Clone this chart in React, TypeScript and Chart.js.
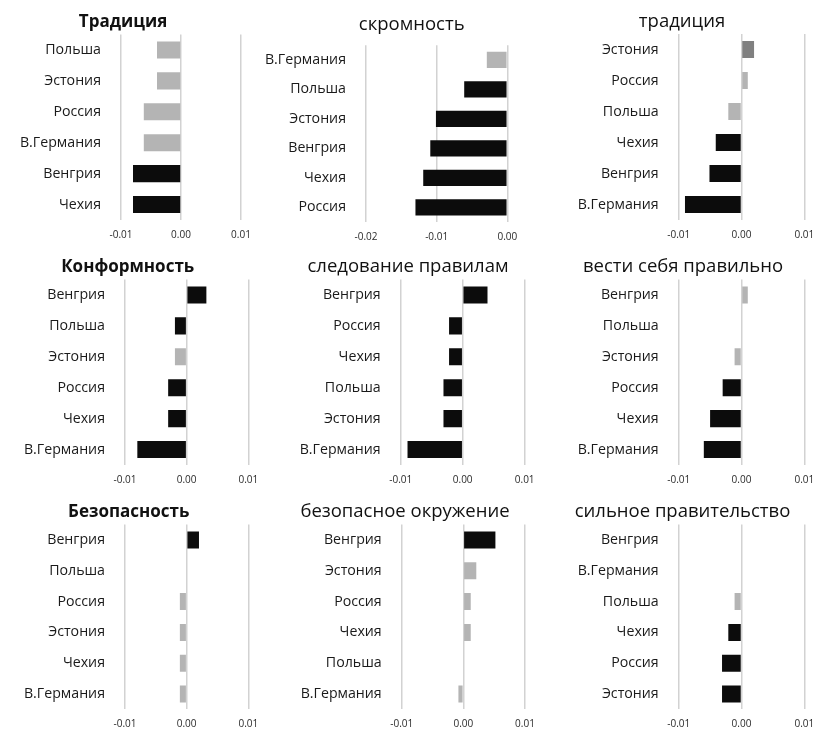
import React, { useEffect, useRef } from "react";
import { Chart, registerables } from "chart.js";

Chart.register(...registerables);

// ---------- DATA ----------
// level codes: "s" = significant (black), "m" = marginal (mid grey), "n" = not significant (light grey)

const p1Title = "Традиция";
const p1Categories = ["Польша", "Эстония", "Россия", "В.Германия", "Венгрия", "Чехия"];
const p1Values = [-0.004, -0.004, -0.0062, -0.0062, -0.008, -0.008];
const p1Levels = ["n", "n", "n", "n", "s", "s"];
const p1Ticks = [-0.01, 0, 0.01];

const p2Title = "скромность";
const p2Categories = ["В.Германия", "Польша", "Эстония", "Венгрия", "Чехия", "Россия"];
const p2Values = [-0.0029, -0.0061, -0.0101, -0.0109, -0.0119, -0.013];
const p2Levels = ["n", "s", "s", "s", "s", "s"];
const p2Ticks = [-0.02, -0.01, 0];

const p3Title = "традиция";
const p3Categories = ["Эстония", "Россия", "Польша", "Чехия", "Венгрия", "В.Германия"];
const p3Values = [0.002, 0.001, -0.0021, -0.0041, -0.0051, -0.009];
const p3Levels = ["m", "n", "n", "s", "s", "s"];
const p3Ticks = [-0.01, 0, 0.01];

const p4Title = "Конформность";
const p4Categories = ["Венгрия", "Польша", "Эстония", "Россия", "Чехия", "В.Германия"];
const p4Values = [0.0032, -0.0019, -0.0019, -0.003, -0.003, -0.008];
const p4Levels = ["s", "s", "n", "s", "s", "s"];
const p4Ticks = [-0.01, 0, 0.01];

const p5Title = "следование правилам";
const p5Categories = ["Венгрия", "Россия", "Чехия", "Польша", "Эстония", "В.Германия"];
const p5Values = [0.004, -0.0022, -0.0022, -0.0031, -0.0031, -0.0089];
const p5Levels = ["s", "s", "s", "s", "s", "s"];
const p5Ticks = [-0.01, 0, 0.01];

const p6Title = "вести себя правильно";
const p6Categories = ["Венгрия", "Польша", "Эстония", "Россия", "Чехия", "В.Германия"];
const p6Values = [0.001, 0, -0.0011, -0.003, -0.005, -0.006];
const p6Levels = ["n", "n", "n", "s", "s", "s"];
const p6Ticks = [-0.01, 0, 0.01];

const p7Title = "Безопасность";
const p7Categories = ["Венгрия", "Польша", "Россия", "Эстония", "Чехия", "В.Германия"];
const p7Values = [0.002, 0, -0.0011, -0.0011, -0.0011, -0.0011];
const p7Levels = ["s", "n", "n", "n", "n", "n"];
const p7Ticks = [-0.01, 0, 0.01];

const p8Title = "безопасное окружение";
const p8Categories = ["Венгрия", "Эстония", "Россия", "Чехия", "Польша", "В.Германия"];
const p8Values = [0.0052, 0.0021, 0.0012, 0.0012, 0, -0.0008];
const p8Levels = ["s", "n", "n", "n", "n", "n"];
const p8Ticks = [-0.01, 0, 0.01];

const p9Title = "сильное правительство";
const p9Categories = ["Венгрия", "В.Германия", "Польша", "Чехия", "Россия", "Эстония"];
const p9Values = [0, 0, -0.0011, -0.0021, -0.0031, -0.0031];
const p9Levels = ["n", "n", "n", "s", "s", "s"];
const p9Ticks = [-0.01, 0, 0.01];

// ---------- STYLE / LAYOUT ----------
const LEVEL_COLORS: Record<string, string> = { s: "#0c0c0c", m: "#808080", n: "#b4b4b4" };
const FONT = "'Open Sans', 'Noto Sans', sans-serif";
const W = 824;
const H = 738;

type Geo = { L: number; R: number; T: number; B: number; cx: number; base: number; bold: boolean };

const geometry: Geo[] = [
  { L: 121, R: 241, T: 34.5, B: 220, cx: 123, base: 27, bold: true },
  { L: 366, R: 507.3, T: 45.2, B: 222.2, cx: 411.7, base: 30, bold: false },
  { L: 678.7, R: 804.3, T: 34, B: 220, cx: 682, base: 27, bold: false },
  { L: 125, R: 248.3, T: 279.5, B: 465, cx: 127.7, base: 271.7, bold: true },
  { L: 400.7, R: 524.7, T: 279.5, B: 465, cx: 408, base: 271.7, bold: false },
  { L: 678.7, R: 804.3, T: 279.5, B: 465, cx: 683, base: 271.7, bold: false },
  { L: 125, R: 248.3, T: 524.5, B: 710.5, cx: 128.7, base: 516.7, bold: true },
  { L: 401.7, R: 525, T: 524.5, B: 710.5, cx: 405, base: 516.7, bold: false },
  { L: 678.7, R: 804.3, T: 524.5, B: 710.5, cx: 682.5, base: 516.7, bold: false },
];

const panels = [
  { title: p1Title, cats: p1Categories, vals: p1Values, levels: p1Levels, ticks: p1Ticks },
  { title: p2Title, cats: p2Categories, vals: p2Values, levels: p2Levels, ticks: p2Ticks },
  { title: p3Title, cats: p3Categories, vals: p3Values, levels: p3Levels, ticks: p3Ticks },
  { title: p4Title, cats: p4Categories, vals: p4Values, levels: p4Levels, ticks: p4Ticks },
  { title: p5Title, cats: p5Categories, vals: p5Values, levels: p5Levels, ticks: p5Ticks },
  { title: p6Title, cats: p6Categories, vals: p6Values, levels: p6Levels, ticks: p6Ticks },
  { title: p7Title, cats: p7Categories, vals: p7Values, levels: p7Levels, ticks: p7Ticks },
  { title: p8Title, cats: p8Categories, vals: p8Values, levels: p8Levels, ticks: p8Ticks },
  { title: p9Title, cats: p9Categories, vals: p9Values, levels: p9Levels, ticks: p9Ticks },
];

const X_AXIS_H = 24;
const Y_AXIS_W = 130;

function fmt(v: number) {
  if (Math.abs(v) < 1e-9) return "0.00";
  return v.toFixed(2);
}

function Panel({ idx }: { idx: number }) {
  const ref = useRef<HTMLCanvasElement>(null);
  useEffect(() => {
    const p = panels[idx];
    const g = geometry[idx];
    const titleSize = g.bold ? 17 : 18.5;
    const padL = g.L - Y_AXIS_W;
    const padR = W - g.R;
    const padT = g.T;
    const padB = H - g.B - X_AXIS_H;
    const tickVals = p.ticks;

    const panelTitle = {
      id: "panelTitle" + idx,
      afterDraw(chart: any) {
        const ctx = chart.ctx;
        ctx.save();
        ctx.font = `${g.bold ? "bold " : ""}${titleSize}px ${FONT}`;
        ctx.fillStyle = "#111";
        ctx.textAlign = "center";
        ctx.textBaseline = "alphabetic";
        ctx.fillText(p.title, g.cx, g.base);
        ctx.restore();
      },
    };

    const chart = new Chart(ref.current as HTMLCanvasElement, {
      type: "bar",
      data: {
        labels: p.cats,
        datasets: [
          {
            data: p.vals,
            backgroundColor: p.levels.map((l) => LEVEL_COLORS[l]),
            borderWidth: 0,
            barPercentage: 0.55,
            categoryPercentage: 1,
          },
        ],
      },
      options: {
        indexAxis: "y",
        responsive: false,
        animation: false,
        events: [],
        layout: { padding: { left: padL, right: padR, top: padT, bottom: padB } },
        plugins: {
          legend: { display: false },
          tooltip: { enabled: false },
          title: { display: false },
        },
        scales: {
          x: {
            type: "linear",
            min: tickVals[0],
            max: tickVals[tickVals.length - 1],
            afterBuildTicks: (scale: any) => {
              scale.ticks = tickVals.map((v) => ({ value: v }));
            },
            afterFit: (scale: any) => {
              scale.height = X_AXIS_H;
            },
            grid: { display: true, color: "#d2d2d2", lineWidth: 1.5, drawTicks: false },
            border: { display: false },
            ticks: {
              padding: 9,
              color: "#2a2a2a",
              font: { family: FONT, size: 10 },
              callback: (v: any) => fmt(Number(v)),
            },
          },
          y: {
            type: "category",
            afterFit: (scale: any) => {
              scale.width = Y_AXIS_W;
            },
            grid: { display: false, drawTicks: false },
            border: { display: false },
            ticks: {
              padding: 20,
              color: "#1a1a1a",
              font: { family: FONT, size: 14.2 },
            },
          },
        },
      },
      plugins: [panelTitle],
    } as any);
    return () => chart.destroy();
  }, [idx]);
  return (
    <canvas
      ref={ref}
      width={W}
      height={H}
      style={{ position: "absolute", left: 0, top: 0, width: W, height: H }}
    />
  );
}

export default function App() {
  return (
    <div style={{ position: "absolute", left: 0, top: 0, width: W, height: H, background: "#fff", overflow: "hidden" }}>
      {panels.map((_, i) => (
        <Panel key={i} idx={i} />
      ))}
    </div>
  );
}
